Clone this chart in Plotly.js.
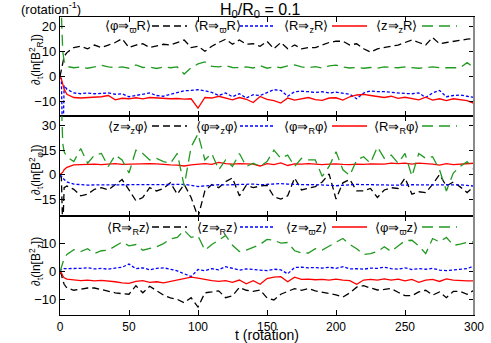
<!DOCTYPE html>
<html>
<head>
<meta charset="utf-8">
<script src="https://cdn.plot.ly/plotly-3.0.1.min.js"></script>
<style>
body { margin: 0; background: #fff; }
#chart { width: 491px; height: 343px; }
</style>
</head>
<body>
<div id="chart"></div>
<script>
// time in rotations
const tRot = [0, 1, 2, 3,
    5, 10, 15, 20, 25, 30, 35, 40, 45, 50,
    55, 60, 65, 70, 75, 80, 85, 90, 95, 100,
    105, 110, 115, 120, 125, 130, 135, 140, 145, 150,
    155, 160, 165, 170, 175, 180, 185, 190, 195, 200,
    205, 210, 215, 220, 225, 230, 235, 240, 245, 250,
    255, 260, 265, 270, 275, 280, 285, 290, 295, 300];

// top panel: d/dt ln(B_R^2)
const topBlack = [0, 3, 6, 8,
    9.5, 11.5, 12, 11, 12.5, 11.5, 12.5, 13.5, 15, 11.5,
    12.5, 13, 11.5, 12, 12.8, 12.5, 13.5, 14.5, 11.5, 12,
    10, 12, 13.5, 14.8, 12.8, 14.5, 12.8, 13, 12, 14,
    11, 13.5, 11, 12.5, 11, 11.5, 11.5, 12.5, 13.5, 14,
    14, 12.5, 13, 11, 9.7, 11, 11.5, 12, 12.5, 13.5,
    14.5, 13.5, 12.5, 15.5, 13, 13.5, 14, 14.5, 14.8, 15];
const topBlue = [0, -1, -30, -3.5,
    -5, -6.5, -6.8, -6.5, -6.8, -6.7, -6.5, -7, -6.8, -8,
    -7.5, -6.8, -6.5, -7.5, -7.8, -7, -6.2, -5.6, -5.5, -5.2,
    -5.6, -6.3, -7.5, -6.5, -8, -6.8, -8.5, -7.2, -7.5, -6.5,
    -5.2, -5.5, -7.8, -6, -5.8, -6, -6.3, -6, -6.5, -6.2,
    -6.5, -7, -8.8, -6.5, -5.7, -6, -6, -6.3, -6.5, -6.7,
    -6.8, -6.5, -8.3, -6.5, -5.5, -8, -7.5, -7.3, -7.8, -8.3];
const topRed = [0, -1, -3, -5,
    -7, -8.3, -8.5, -8.4, -8.2, -8, -7.5, -9.2, -8.6, -8.8,
    -8.4, -8.8, -8.3, -8.5, -8.6, -8.8, -8.7, -8.9, -8.8, -12.5,
    -8.3, -8.5, -7.8, -8.6, -9.2, -8.3, -9, -10.3, -7.9, -9,
    -9.5, -10.5, -8.5, -9.3, -8.8, -8.3, -9.1, -9.4, -8.5, -8.4,
    -9.3, -8, -7.3, -7.1, -7.5, -8, -8.3, -7.8, -8.6, -8.2,
    -8.8, -9.2, -8.2, -9.3, -8.8, -9.5, -8.8, -9.2, -9.5, -10.6];
const topGreen = [30, 25, 10, 6,
    4, 3.5, 3.8, 3.3, 3.8, 4.5, 3.8, 3.5, 3.8, 3.3,
    4.6, 3.6, 3.8, 3.2, 3.8, 3.5, 3.8, 1, 3.5, 5,
    5.8, 4, 3.8, 4.3, 3.6, 3.5, 3.8, 3.4, 4.3, 3.3,
    3.9, 3.5, 4.2, 4.6, 3.8, 3.5, 3.9, 3.4, 4.2, 4.5,
    3.8, 3.4, 3.6, 3.3, 3.6, 3.3, 3.8, 3.6, 3.5, 3.8,
    3.5, 3.3, 3.5, 3.8, 3.5, 3.4, 3.6, 3.5, 5.5, 3.5];

// middle panel: d/dt ln(B_phi^2)
const midBlack = [0, -2, -35, -8,
    -7, -9, -13, -12, -9, -8, -9.4, -6, -3, -9.4,
    -16, -14, -8, -10, -8.5, -5, -12, -6, -14, -26,
    -10, -6, -8, -4.3, -2, -13, -6.5, -8, -7, -6.5,
    -13.5, -15, -13, -2, -9.4, -8.3, -7.3, -4.5, 0.5, -15,
    -5, -3, -10, -10, -8.5, -14, -9.4, -8, -8.5, -2,
    -12, -10.5, -11, -6, 0, -7, -4.5, -7.5, -11, -7.3];
const midBlue = [0, -0.7, -1.8, -3,
    -4.5, -5.8, -6.3, -6.4, -6.3, -6.3, -6.2, -6.3, -6.1, -6.3,
    -6.2, -6.2, -6.1, -6.3, -6.2, -6, -6.1, -6, -6.5, -7.3,
    -6.9, -6.5, -6.2, -6.3, -6.1, -6.3, -6.1, -5.8, -6.2, -6,
    -5.6, -5.5, -5.8, -6, -6.1, -6.2, -6.1, -6.3, -6.5, -6.8,
    -6.5, -6.2, -6, -6.1, -6.3, -6.2, -6.3, -6.4, -6.5, -6.4,
    -6.2, -6.3, -6.2, -6.4, -6.3, -6.2, -6.1, -6.3, -6.6, -7];
const midRed = [0, 0.5, 1.5, 3,
    4.5, 6, 6.3, 6.5, 6.5, 6.2, 6.5, 6.8, 6.3, 6.5,
    6.8, 7, 6.8, 6.6, 6.5, 6, 5.8, 5.3, 6, 6.5,
    6.8, 6.3, 7.5, 6.8, 6.5, 6.8, 6.6, 6.5, 5.3, 6.8,
    6.2, 7.2, 5.6, 6.6, 6.4, 6.8, 6.5, 6.2, 6.4, 6.6,
    6.3, 6.1, 6.5, 6.3, 6.6, 6.4, 6.5, 7, 6.7, 7,
    6.5, 7, 6.8, 6.5, 5.9, 6.7, 6.2, 6.5, 6.7, 7];
const midGreen = [40, 45, 19, 14,
    11, 8, 16, 7, 12, 13, 5, 12, 9, 1,
    15, 13, 9, 10, 8, 7, 13, -7, 17, 25,
    9, 13, 3, 9, 5, 13, 5, 7, 5, 8,
    15, 10, 12, 5, 10, 9, 9, -1, 5, 14,
    3, -0.5, 9, 11, 7, 17, 10, 12, 7, 13,
    -1, 13, 10, 11, 3, -10, 1, 5, 8, 3];

// bottom panel: d/dt ln(B_z^2)
const botBlack = [0, -1, -3, -4.5,
    -5.8, -6.6, -6.2, -5.8, -5.8, -6.4, -6.8, -7.5, -7.8, -8,
    -5, -7.5, -5.2, -6.6, -8.3, -9.3, -9.8, -11, -9.2, -12.5,
    -7.5, -7.2, -6.8, -9.2, -8.5, -5.6, -6.6, -7, -6.5, -9.3,
    -10, -8, -7, -6, -6.6, -6, -6.8, -7.2, -7.6, -8.2,
    -9, -7.5, -5.5, -5, -5.8, -6.5, -6.3, -6, -7.3, -8.5,
    -8.5, -7.2, -6.6, -8.3, -7.2, -9.2, -7, -7, -8, -6.6];
const botBlue = [0, 0.8, 1, 1,
    1, 1.2, 1.1, 1.3, 0.9, 1.1, 0.8, 1.2, 1.5, 2.6,
    1, 1.3, 0.6, 1.1, 1.3, 0.8, 0.2, -0.8, -1.8, 0.7,
    0.3, 1, 0.6, 1.7, 1.2, 0.5, 0.9, 0.6, 0.5, 0.3,
    0.8, 0.6, -0.8, 1.4, 1.5, 1.3, 1.4, 1.2, 1.5, 1.1,
    1.7, 0.9, 1, 0.8, 1.2, 1.1, 1.5, 1, 0.8, 1.3,
    0.7, 1, 0.8, 1.1, 0.5, 0.3, 0.6, 0.9, 1, 2];
const botRed = [0, -0.5, -1.5, -2.2,
    -2.7, -3, -3.2, -3, -3.3, -3.1, -3.3, -3.6, -4, -4.2,
    -3.5, -3.2, -3.8, -3.6, -4, -3.5, -3, -2.3, -2, -2.3,
    -2.8, -3.2, -3.5, -3.2, -3.8, -3, -4.3, -3.2, -4.5, -2.5,
    -2, -1.8, -3.6, -2, -2.8, -2.7, -2.9, -2.8, -3, -2.7,
    -3, -3.2, -4.5, -3, -2.8, -3, -2.6, -3, -2.7, -3.3,
    -2.8, -3.8, -3, -2.8, -3.5, -2.6, -3, -3.2, -3.3, -3.3];
const botGreen = [0, 1.5, 3, 4.5,
    6, 7.7, 7, 8, 6.3, 7.3, 7.5, 9, 10.4, 9,
    9.5, 7.5, 8, 8.7, 9.8, 11.4, 12, 14.5, 12, 12.5,
    7.5, 9.5, 11, 12.7, 9.2, 7, 7.5, 8.5, 9.5, 11.3,
    11, 10, 10.2, 7.3, 6.5, 6.5, 8, 7.5, 9, 10.3,
    11.6, 9.5, 8, 6, 6.3, 7, 8.7, 7, 9, 10.8,
    11, 9, 6.3, 11.6, 10.4, 12, 9.2, 9.6, 10.3, 10.4];

// legend labels, the small letter sits under the arrow
const topLabels = ['⟨φ⇒<sub>ϖ</sub>R⟩', '⟨R⇒<sub>ϖ</sub>R⟩', '⟨R⇒<sub>z</sub>R⟩', '⟨z⇒<sub>z</sub>R⟩'];
const midLabels = ['⟨z⇒<sub>z</sub>φ⟩', '⟨φ⇒<sub>z</sub>φ⟩', '⟨φ⇒<sub>R</sub>φ⟩', '⟨R⇒<sub>R</sub>φ⟩'];
const botLabels = ['⟨R⇒<sub>R</sub>z⟩', '⟨z⇒<sub>R</sub>z⟩', '⟨z⇒<sub>ϖ</sub>z⟩', '⟨φ⇒<sub>ϖ</sub>z⟩'];

const yTitles = [
    '∂<sub>t</sub>(ln[B<sup>2</sup><sub>R</sub>])',
    '∂<sub>t</sub>(ln[B<sup>2</sup><sub>φ</sub>])',
    '∂<sub>t</sub>(ln[B<sup>2</sup><sub>z</sub>])'
];

const seriesColors = ['#000000', '#0000ff', '#ff0000', '#229a22'];
const seriesDash = ['7px,4px', '3px,2px', 'solid', '11px,6px'];

const fontFamily = 'Liberation Sans, Arial, sans-serif';

// plot area in pixels (for placing legend bits)
const plotLeft = 60, plotWidth = 414, plotTop = 17, plotHeight = 298;
function px2x(px) { return (px - plotLeft) / plotWidth; }
function px2y(py) { return (plotTop + plotHeight - py) / plotHeight; }

const panels = [
    {series: [topBlack, topBlue, topRed, topGreen], labels: topLabels, xa: 'x', ya: 'y', rowY: 26, titleY: 60},
    {series: [midBlack, midBlue, midRed, midGreen], labels: midLabels, xa: 'x2', ya: 'y2', rowY: 126, titleY: 170},
    {series: [botBlack, botBlue, botRed, botGreen], labels: botLabels, xa: 'x3', ya: 'y3', rowY: 227, titleY: 262}
];

const traces = [];
const annotations = [];
const shapes = [];

const textCenters = [128, 217, 306, 396];
const sampleStarts = [152, 240, 332, 422];

for (let p = 0; p < panels.length; p++) {
    const panel = panels[p];
    for (let i = 0; i < 4; i++) {
        traces.push({
            x: tRot,
            y: panel.series[i],
            xaxis: panel.xa,
            yaxis: panel.ya,
            type: 'scatter',
            mode: 'lines',
            line: {color: seriesColors[i], width: 1.3, dash: seriesDash[i]},
            showlegend: false,
            hoverinfo: 'skip'
        });

        annotations.push({
            xref: 'paper', yref: 'paper',
            x: px2x(textCenters[i]), y: px2y(panel.rowY + 1),
            xanchor: 'center', yanchor: 'middle',
            text: panel.labels[i], showarrow: false,
            font: {family: fontFamily, size: 13, color: '#000'}
        });
        shapes.push({
            type: 'line', xref: 'paper', yref: 'paper',
            x0: px2x(sampleStarts[i]), x1: px2x(sampleStarts[i] + 35),
            y0: px2y(panel.rowY), y1: px2y(panel.rowY),
            line: {color: seriesColors[i], width: 1.3, dash: seriesDash[i]}
        });
    }

    annotations.push({
        xref: 'paper', yref: 'paper',
        x: 0, y: px2y(panel.titleY),
        xanchor: 'center', yanchor: 'middle',
        xshift: -24,
        textangle: -90,
        text: yTitles[p], showarrow: false,
        font: {family: fontFamily, size: 12, color: '#000'}
    });
}

// main heading over the plot
annotations.push({
    xref: 'paper', yref: 'paper',
    x: px2x(260), y: px2y(10),
    xanchor: 'center', yanchor: 'middle',
    text: 'H<sub>0</sub>/R<sub>0</sub> = 0.1', showarrow: false,
    font: {family: fontFamily, size: 16, color: '#000'}
});

// gray right border
shapes.push({
    type: 'line', xref: 'paper', yref: 'paper',
    x0: 1, x1: 1, y0: 0, y1: 1,
    line: {color: '#8a8a8a', width: 2}
});

function xAxis(anchor, showLabels) {
    return {
        anchor: anchor,
        domain: [0, 1],
        range: [0, 300],
        tickvals: [0, 50, 100, 150, 200, 250, 300],
        showticklabels: showLabels,
        ticks: 'inside',
        ticklen: 5,
        tickcolor: '#000',
        showline: true,
        linecolor: '#000',
        linewidth: 1.2,
        mirror: 'ticks',
        showgrid: false,
        zeroline: false,
        tickfont: {family: fontFamily, size: 12, color: '#000'}
    };
}

function yAxis(anchor, domain, range, tickvals) {
    return {
        anchor: anchor,
        domain: domain,
        range: range,
        tickvals: tickvals,
        ticks: 'inside',
        ticklen: 5,
        tickcolor: '#000',
        showline: true,
        linecolor: '#000',
        linewidth: 1.2,
        mirror: 'ticks',
        showgrid: false,
        zeroline: false,
        tickfont: {family: fontFamily, size: 13, color: '#000'}
    };
}

const xBot = xAxis('y3', true);
xBot.title = {text: 't (rotation)', standoff: 4, font: {family: fontFamily, size: 14, color: '#000'}};

const layout = {
    width: 491,
    height: 343,
    margin: {l: plotLeft, r: 17, t: plotTop, b: 28},
    paper_bgcolor: '#fff',
    plot_bgcolor: '#fff',
    font: {family: fontFamily, color: '#000'},
    // unit label in the top-left corner
    title: {
        text: '(rotation<sup>-1</sup>)',
        xref: 'container', x: 21 / 491, xanchor: 'left',
        yref: 'container', y: 1 - 9 / 343, yanchor: 'middle',
        font: {family: fontFamily, size: 13, color: '#000'}
    },
    xaxis: xAxis('y', false),
    xaxis2: xAxis('y2', false),
    xaxis3: xBot,
    yaxis: yAxis('x', [0.668, 1], [-15.6, 23.6], [-10, 0, 10, 20]),
    yaxis2: yAxis('x2', [0.332, 0.668], [-25.4, 36], [-15, 0, 15, 30]),
    yaxis3: yAxis('x3', [0, 0.332], [-15.3, 19.5], [-10, 0, 10]),
    annotations: annotations,
    shapes: shapes,
    showlegend: false
};

Plotly.newPlot('chart', traces, layout, {staticPlot: true, displayModeBar: false});
</script>
</body>
</html>
